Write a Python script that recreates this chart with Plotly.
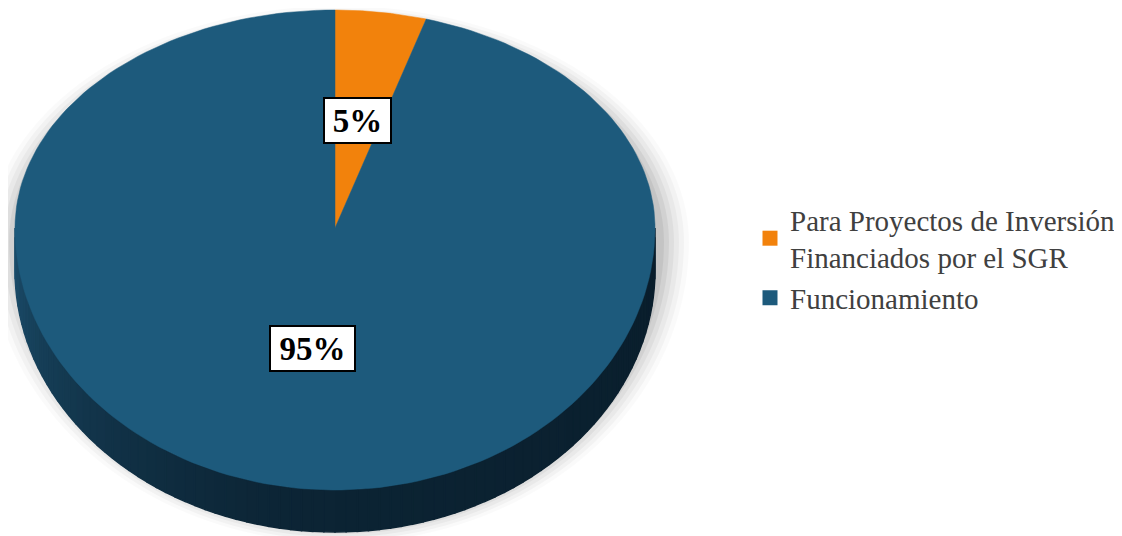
import numpy as np
import plotly.graph_objects as go

# ---- data ----
categories = ["Para Proyectos de Inversión<br>Financiados por el SGR", "Funcionamiento"]
values = [4.6, 95.4]
colors = ["#F2820C", "#1D5A7C"]

# ---- geometry of the tilted (3D-look) pie, in page-pixel space ----
W, H = 1122, 536
OFF = 8  # default body margin of the html page
CX, CY = 335, 228
RX, RY_TOP, RY_BOT = 320, 218, 262
DEPTH = 42


def pt(theta, r=1.0):
    """theta in degrees, clockwise from 12 o'clock"""
    t = np.radians(theta)
    c = np.cos(t)
    ry = np.where(c > 0, RY_TOP, RY_BOT)
    return CX + r * RX * np.sin(t), CY - r * ry * c


fig = go.Figure()

# soft shadow
for k, a in enumerate([0.02, 0.03, 0.035, 0.045, 0.055, 0.06]):
    grow = 30 - k * 5
    th = np.linspace(0, 360, 181)
    t = np.radians(th)
    c = np.cos(t)
    ry = np.where(c > 0, RY_TOP, RY_BOT + DEPTH / 2)
    xs = CX + 4 + (RX + grow) * np.sin(t)
    ys = CY + 14 - (ry + grow * 0.6) * c
    fig.add_trace(go.Scatter(x=xs, y=ys, fill="toself", mode="none",
                             fillcolor=f"rgba(0,0,0,{a})", showlegend=False, hoverinfo="skip"))

# side wall (front half) with gradient
total = sum(values)
angles = np.cumsum([0] + values) / total * 360
n = 90
ths = np.linspace(90, 270, n + 1)
c_left = np.array([28, 78, 108])
c_mid = np.array([12, 36, 52])
c_right = np.array([10, 30, 44])
for i in range(n):
    a0, a1 = ths[i], ths[i + 1]
    mid = (a0 + a1) / 2
    x0, y0 = pt(a0)
    x1, y1 = pt(a1)
    f = (mid - 90) / 180  # 0 = right, 1 = left
    if f > 0.5:
        g = (f - 0.5) / 0.5
        col = c_mid + (c_left - c_mid) * g ** 1.5
    else:
        g = f / 0.5
        col = c_right + (c_mid - c_right) * g
    col = col.astype(int)
    rgb = f"rgb({col[0]},{col[1]},{col[2]})"
    fig.add_trace(go.Scatter(
        x=[x0, x1, x1, x0, x0], y=[y0, y1, y1 + DEPTH, y0 + DEPTH, y0],
        fill="toself", mode="lines", line=dict(width=1.5, color=rgb),
        fillcolor=rgb, showlegend=False, hoverinfo="skip"))

# top face slices
for i, (cat, v) in enumerate(zip(categories, values)):
    th = np.linspace(angles[i], angles[i + 1], 200)
    xs, ys = pt(th)
    xs = np.concatenate([[CX], xs, [CX]])
    ys = np.concatenate([[CY], ys, [CY]])
    fig.add_trace(go.Scatter(x=xs, y=ys, fill="toself", mode="lines",
                             line=dict(width=0.5, color=colors[i]),
                             fillcolor=colors[i], showlegend=False, hoverinfo="skip"))

# labels
for i, v in enumerate(values):
    mid = (angles[i] + angles[i + 1]) / 2
    lx, ly = pt(mid, 0.48)
    txt = f"{round(v / total * 100)}%"
    fig.add_annotation(x=float(lx), y=float(ly) - 4, text=f"<b>{txt}</b>",
                       showarrow=False, bgcolor="white", bordercolor="black", borderwidth=2,
                       borderpad=4, width=18 * len(txt) + 21, height=35,
                       font=dict(family="Liberation Serif", size=33, color="black"))

# legend entries
for cat, col in zip(categories, colors):
    fig.add_trace(go.Scatter(x=[None], y=[None], mode="markers", name=cat,
                             marker=dict(symbol="square", size=15, color=col)))

fig.update_xaxes(range=[OFF, W], visible=False, fixedrange=True)
fig.update_yaxes(range=[H, OFF], visible=False, fixedrange=True)
fig.update_layout(
    width=W - OFF, height=H - OFF, margin=dict(l=0, r=0, t=0, b=0),
    plot_bgcolor="white", paper_bgcolor="white",
    legend=dict(x=(750 - OFF) / (W - OFF), y=1 - (194 - OFF) / (H - OFF),
                xanchor="left", yanchor="top",
                font=dict(family="Liberation Serif", size=29, color="#404040"),
                bgcolor="rgba(0,0,0,0)", itemwidth=30, tracegroupgap=0),
)
fig.write_html("out.html")
